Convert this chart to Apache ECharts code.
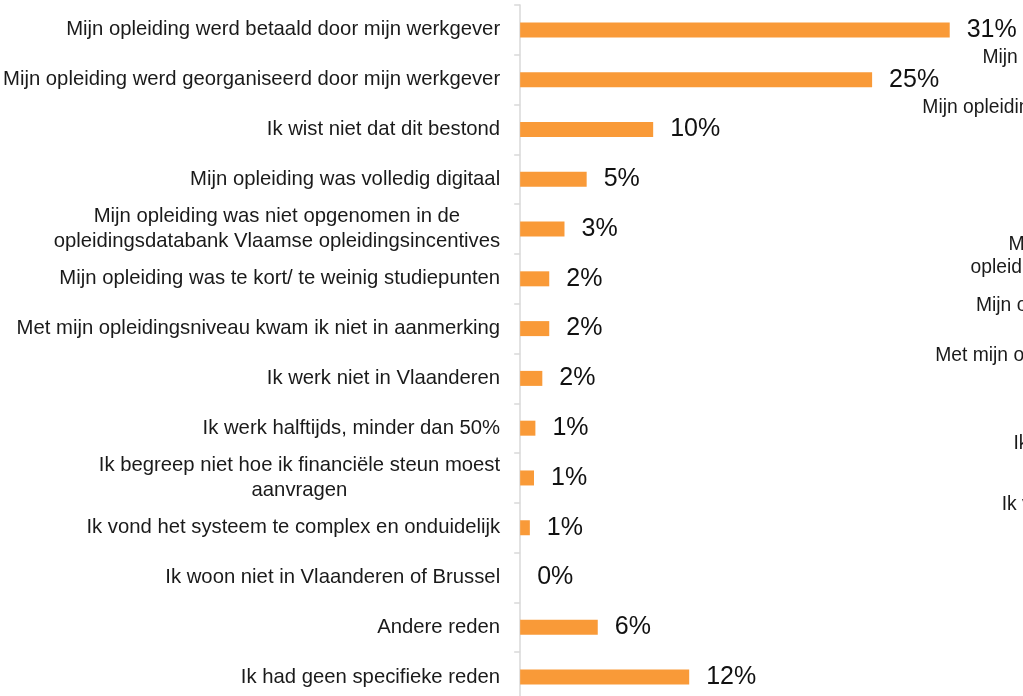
<!DOCTYPE html>
<html>
<head>
<meta charset="utf-8">
<style>
html,body{margin:0;padding:0;background:#fff;overflow:hidden;}
#chart{width:1023px;height:710px;}
</style>
<script src="https://cdn.jsdelivr.net/npm/echarts@6/dist/echarts.min.js"></script>
</head>
<body>
<div id="chart"></div>
<script>
// Main chart data
const categories = [
  "Mijn opleiding werd betaald door mijn werkgever",
  "Mijn opleiding werd georganiseerd door mijn werkgever",
  "Ik wist niet dat dit bestond",
  "Mijn opleiding was volledig digitaal",
  "Mijn opleiding was niet opgenomen in de\nopleidingsdatabank Vlaamse opleidingsincentives",
  "Mijn opleiding was te kort/ te weinig studiepunten",
  "Met mijn opleidingsniveau kwam ik niet in aanmerking",
  "Ik werk niet in Vlaanderen",
  "Ik werk halftijds, minder dan 50%",
  "Ik begreep niet hoe ik financiële steun moest\naanvragen",
  "Ik vond het systeem te complex en onduidelijk",
  "Ik woon niet in Vlaanderen of Brussel",
  "Andere reden",
  "Ik had geen specifieke reden"
];
const values = [31.0, 25.4, 9.6, 4.8, 3.2, 2.1, 2.1, 1.6, 1.1, 1.0, 0.7, 0, 5.6, 12.2];

// Category labels of the neighbouring (clipped) chart at the right edge
const secondCategories = [
  "Mijn opleiding werd betaald door mijn werkgever",
  "Mijn opleiding werd georganiseerd door mijn werkgever",
  "Ik wist niet dat dit bestond",
  "Mijn opleiding was volledig digitaal",
  "Mijn opleiding was niet opgenomen in de\nopleidingsdatabank Vlaamse opleidingsincentives",
  "Mijn opleiding was te kort/ te weinig studiepunten",
  "Met mijn opleidingsniveau kwam ik niet in aanmerking",
  "Ik werk niet in Vlaanderen",
  "Ik begreep niet hoe ik financiële steun moest\naanvragen",
  "Ik vond het systeem te complex en onduidelijk",
  "Ik woon niet in Vlaanderen of Brussel",
  "Andere reden",
  "Ik had geen specifieke reden"
];

const FONT = "'Liberation Sans', Arial, sans-serif";
const richFmt = v => v.split('\n').map(l => '{c|' + l + '}').join('\n');

const chart = echarts.init(document.getElementById('chart'), null, {renderer: 'canvas'});
chart.setOption({
  backgroundColor: '#ffffff',
  animation: false,
  grid: [
    {left: 519, top: 5, width: 500, height: 697, containLabel: false},
    {left: 1403, top: 33, width: 100, height: 645, containLabel: false}
  ],
  xAxis: [
    {gridIndex: 0, type: 'value', min: 0, max: 36, show: false},
    {gridIndex: 1, type: 'value', min: 0, max: 1, show: false}
  ],
  yAxis: [
    {
      gridIndex: 0, type: 'category', inverse: true, data: categories,
      axisLine: {show: true, lineStyle: {color: '#d9d9d9', width: 1.5}},
      axisTick: {show: true, length: 6, lineStyle: {color: '#d9d9d9', width: 1.5}},
      axisLabel: {
        margin: 20, color: '#1a1a1a', fontFamily: FONT, fontSize: 20.3,
        formatter: richFmt,
        rich: {c: {align: 'center', fontFamily: FONT, fontSize: 20.3, color: '#1a1a1a', lineHeight: 25}}
      },
      splitLine: {show: false}
    },
    {
      gridIndex: 1, type: 'category', inverse: true, data: secondCategories,
      axisLine: {show: false}, axisTick: {show: false},
      axisLabel: {
        margin: 8, color: '#1a1a1a', fontFamily: FONT, fontSize: 19.3,
        formatter: richFmt,
        rich: {c: {align: 'center', fontFamily: FONT, fontSize: 19.3, color: '#1a1a1a', lineHeight: 23}}
      }
    }
  ],
  series: [
    {
      type: 'bar', xAxisIndex: 0, yAxisIndex: 0, data: values,
      barWidth: 15,
      itemStyle: {color: '#f99a38'},
      label: {
        show: true, position: 'right', distance: 17,
        fontFamily: FONT, fontSize: 25, color: '#111',
        formatter: p => Math.round(p.value) + '%'
      }
    }
  ]
});
</script>
</body>
</html>
